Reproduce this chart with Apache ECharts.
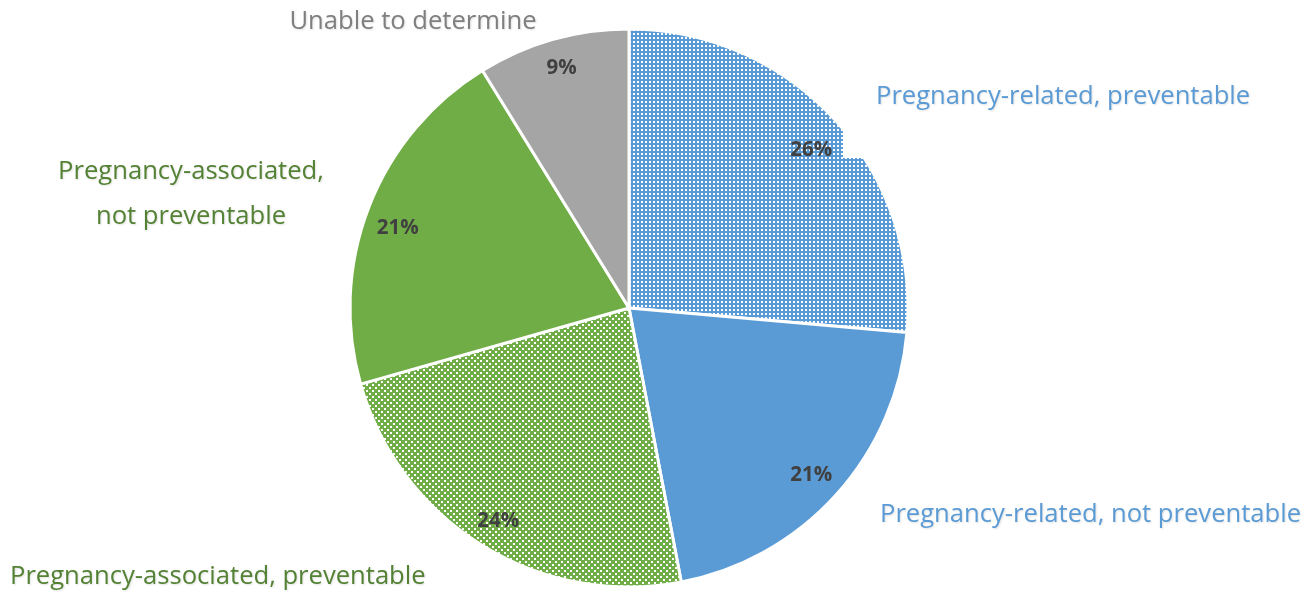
<!DOCTYPE html>
<html>
<head>
<meta charset="utf-8">
<script src="https://cdn.jsdelivr.net/npm/echarts@6/dist/echarts.min.js"></script>
<style>html,body{margin:0;padding:0;background:#fff;}#c{width:1310px;height:594px;}</style>
</head>
<body>
<div id="c"></div>
<script>
const categories = [
  'Pregnancy-related, preventable',
  'Pregnancy-related, not preventable',
  'Pregnancy-associated, preventable',
  'Pregnancy-associated,\nnot preventable',
  'Unable to determine'
];
// shares (labels show rounded values)
const shares = [26.4, 20.6, 23.6, 20.6, 8.8];
const percentLabels = ['26%', '21%', '24%', '21%', '9%'];

const FONT = '"Open Sans", sans-serif';

function tile(size, bg, fg, dots) {
  const c = document.createElement('canvas');
  c.width = size; c.height = size;
  const g = c.getContext('2d');
  g.fillStyle = bg; g.fillRect(0, 0, size, size);
  g.fillStyle = fg;
  dots.forEach(d => g.fillRect(d[0], d[1], d[2], d[3]));
  return c;
}
const bluePattern = { image: tile(4, '#5B9BD5', '#FFFFFF', [[1, 1, 2, 2]]), repeat: 'repeat' };
const greenPattern = { image: tile(6, '#70AD47', '#FFFFFF', [[0, 0, 2, 2], [3, 3, 2, 2]]), repeat: 'repeat' };
const fills = [bluePattern, '#5B9BD5', greenPattern, '#70AD47', '#A5A5A5'];
const labelColors = ['#5B9BD5', '#5B9BD5', '#548235', '#548235', '#7F7F7F'];
const pctOffsets = [[0, 9], [-1, 1], [-1, 3], [-1, 10], [0, -2]];

const chart = echarts.init(document.getElementById('c'), null, { renderer: 'canvas' });

const outerLayouts = [
  { x: 843, y: 36, align: 'left', verticalAlign: 'top' },
  { x: 880, y: 515, align: 'left', verticalAlign: 'middle' },
  { x: 10, y: 577, align: 'left', verticalAlign: 'middle' },
  { x: 191, y: 194, align: 'center', verticalAlign: 'middle' },
  { x: 413, y: 22, align: 'center', verticalAlign: 'middle' }
];

const mainData = categories.map((name, i) => ({
  name: name,
  value: shares[i],
  itemStyle: { color: fills[i] },
  label: Object.assign({ color: labelColors[i] },
    i === 0 ? { backgroundColor: '#FFFFFF', padding: [46, 10, 46, 33], lineHeight: 30 } : {})
}));

const ringData = categories.map((name, i) => ({
  name: percentLabels[i],
  value: shares[i],
  label: { offset: pctOffsets[i] }
}));

chart.setOption({
  backgroundColor: '#FFFFFF',
  animation: false,
  series: [
    {
      type: 'pie',
      center: [629, 308],
      radius: [0, 279],
      startAngle: 90,
      clockwise: true,
      silent: true,
      avoidLabelOverlap: false,
      itemStyle: { borderColor: '#FFFFFF', borderWidth: 3 },
      label: {
        show: true,
        position: 'outside',
        formatter: '{b}',
        fontFamily: FONT,
        fontSize: 25.6,
        lineHeight: 45,
        textShadowColor: 'rgba(0,0,0,0.12)',
        textShadowBlur: 2,
        textShadowOffsetX: 1,
        textShadowOffsetY: 1
      },
      labelLine: { show: false },
      labelLayout: function (p) {
        const l = outerLayouts[p.dataIndex];
        return { x: l.x, y: l.y, align: l.align, verticalAlign: l.verticalAlign, hideOverlap: false, moveOverlap: null };
      },
      data: mainData
    },
    {
      type: 'pie',
      center: [629, 308],
      radius: [208, 280],
      startAngle: 90,
      clockwise: true,
      silent: true,
      itemStyle: { color: 'rgba(0,0,0,0)', borderWidth: 0 },
      label: {
        show: true,
        position: 'inside',
        formatter: '{b}',
        fontFamily: FONT,
        fontWeight: 'bold',
        fontSize: 20.5,
        color: '#404040'
      },
      labelLine: { show: false },
      data: ringData
    }
  ]
});
</script>
</body>
</html>
